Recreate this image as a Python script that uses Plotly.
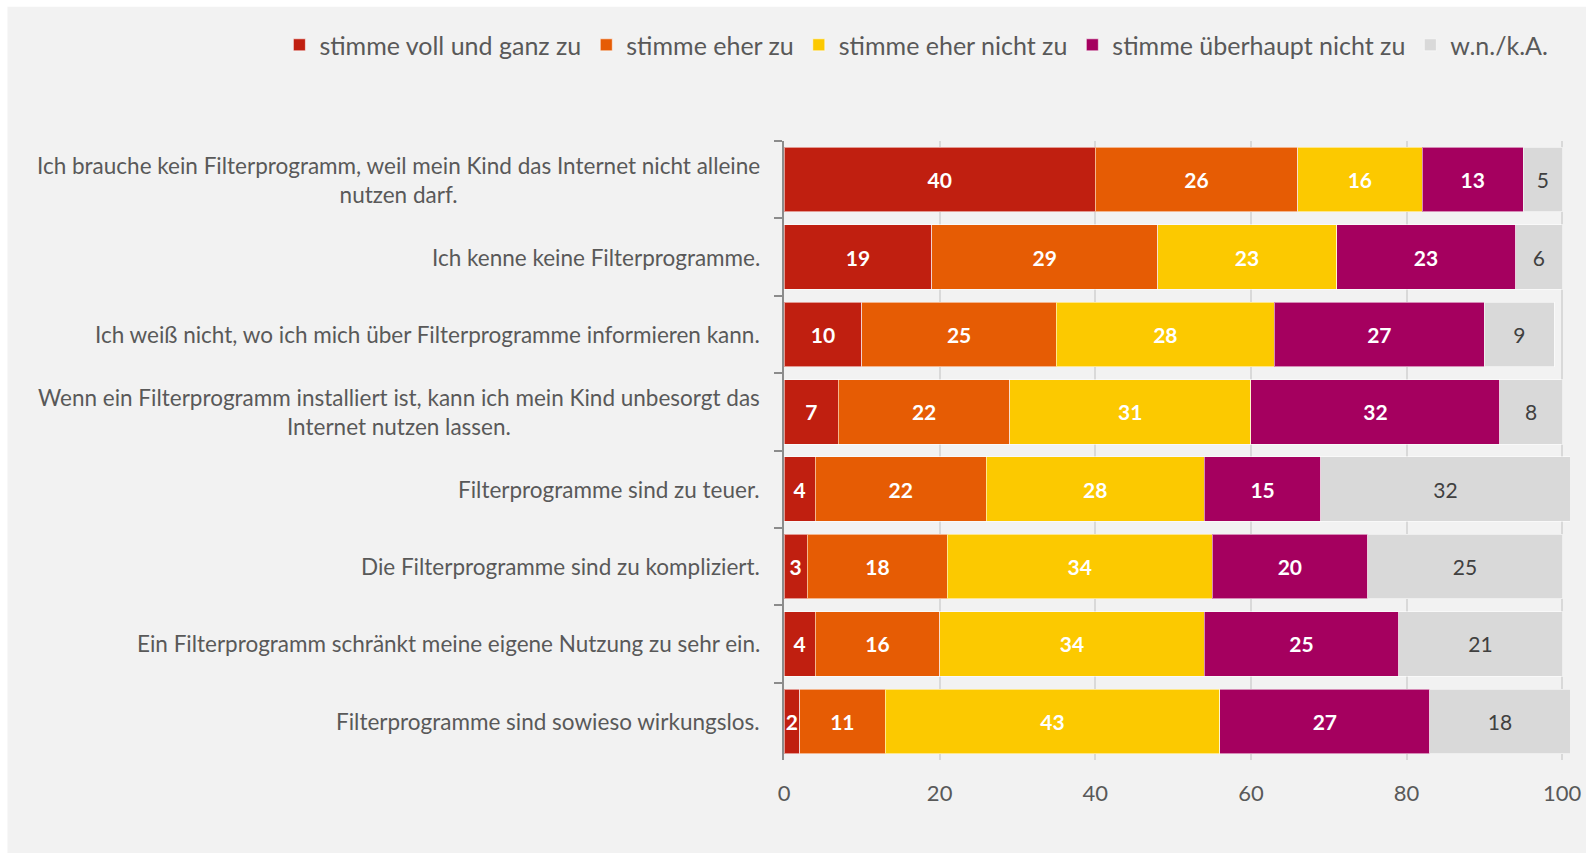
import plotly.graph_objects as go

categories = [
    "Ich brauche kein Filterprogramm, weil mein Kind das Internet nicht alleine<br>nutzen darf.",
    "Ich kenne keine Filterprogramme.",
    "Ich weiß nicht, wo ich mich über Filterprogramme informieren kann.",
    "Wenn ein Filterprogramm installiert ist, kann ich mein Kind unbesorgt das<br>Internet nutzen lassen.",
    "Filterprogramme sind zu teuer.",
    "Die Filterprogramme sind zu kompliziert.",
    "Ein Filterprogramm schränkt meine eigene Nutzung zu sehr ein.",
    "Filterprogramme sind sowieso wirkungslos.",
]
series_names = ["stimme voll und ganz zu", "stimme eher zu", "stimme eher nicht zu",
                "stimme überhaupt nicht zu", "w.n./k.A."]
voll = [40, 19, 10, 7, 4, 3, 4, 2]
eher = [26, 29, 25, 22, 22, 18, 16, 11]
eher_nicht = [16, 23, 28, 31, 28, 34, 34, 43]
ueberhaupt_nicht = [13, 23, 27, 32, 15, 20, 25, 27]
wnka = [5, 6, 9, 8, 32, 25, 21, 18]
x_ticks = [0, 20, 40, 60, 80, 100]

colors = ["#c01f10", "#e65c04", "#fcc900", "#a5005f", "#d9d9d9"]
text_colors = ["white", "white", "white", "white", "#404040"]
text_bold = [True, True, True, True, False]
values = [voll, eher, eher_nicht, ueberhaupt_nicht, wnka]

FONT = "Lato"
fig = go.Figure()
for name, vals, col, tcol, bold in zip(series_names, values, colors, text_colors, text_bold):
    fig.add_trace(go.Bar(
        y=categories, x=vals, name=name, orientation="h",
        marker=dict(color=col, line=dict(color="rgba(255,255,255,0.55)", width=1)),
        text=[str(v) for v in vals], textposition="inside", insidetextanchor="middle",
        textangle=0,
        textfont=dict(family=FONT, size=21, color=tcol, weight="bold" if bold else "normal"),
        width=0.835,
        hoverinfo="x+name",
    ))

# y labels as centered multi-line annotations
for c in categories:
    fig.add_annotation(x=0, xref="paper", y=c, yref="y", text=c, showarrow=False,
                       xanchor="right", yanchor="middle", align="center", xshift=-22,
                       font=dict(family=FONT, size=22.5, color="#595959"))

# chart area background
fig.add_shape(type="rect", xref="paper", yref="paper", x0=-0.988, x1=1.03, y0=-0.153, y1=1.217,
              fillcolor="#f2f2f2", line=dict(width=0), layer="below")

fig.update_layout(
    width=1586, height=853,
    margin=dict(l=784, r=16, t=141, b=93, autoexpand=False),
    paper_bgcolor="white", plot_bgcolor="rgba(0,0,0,0)",
    barmode="stack", bargap=0.165,
    uniformtext=dict(minsize=21, mode="show"),
    font=dict(family=FONT, color="#595959"),
    showlegend=True,
    legend=dict(orientation="h", xref="paper", yref="paper",
                x=-0.642, xanchor="left", y=1.155, yanchor="middle",
                font=dict(family=FONT, size=25, color="#595959"), traceorder="normal",
                bgcolor="rgba(0,0,0,0)", itemwidth=30),
    xaxis=dict(range=[0, 101], tickvals=x_ticks, showgrid=True, gridcolor="#d9d9d9", gridwidth=2,
               zeroline=False, showline=False, ticks="", ticklabelstandoff=18,
               tickfont=dict(family=FONT, size=22, color="#595959")),
    yaxis=dict(categoryorder="array", categoryarray=categories, autorange="reversed",
               showticklabels=False, ticks="outside", tickson="boundaries", ticklen=8,
               tickwidth=2, tickcolor="#8c8c8c", showline=True, linecolor="#8c8c8c", linewidth=2,
               showgrid=False),
)

fig.write_html("out.html", config={"displayModeBar": False},
               post_script="document.body.style.margin='0';")
